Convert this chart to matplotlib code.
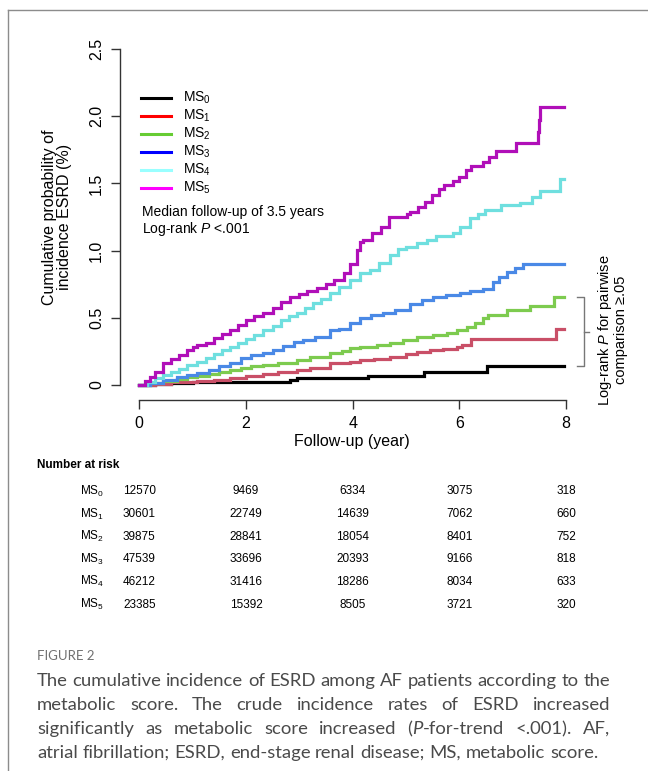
import matplotlib
matplotlib.use("Agg")
import matplotlib.pyplot as plt
from matplotlib.lines import Line2D

plt.rcParams["font.family"] = ["Liberation Sans", "DejaVu Sans"]
plt.rcParams["mathtext.fontset"] = "custom"
plt.rcParams["mathtext.rm"] = "Liberation Sans"
plt.rcParams["mathtext.it"] = "Liberation Sans:italic"
plt.rcParams["mathtext.bf"] = "Liberation Sans:bold"

# ---- cumulative incidence (%) step curves, (time in years, value) ----
ms0_t = [0, 0.3, 0.6, 1.0, 1.5, 2.0, 2.82, 2.95, 4.29, 5.34, 6.51, 7.96]
ms0_v = [0, 0.005, 0.012, 0.02, 0.022, 0.025, 0.04, 0.054, 0.069, 0.094, 0.144, 0.144]

ms1_t = [0, 0.3, 0.6, 1.08, 1.4, 1.7, 2.0, 2.32, 2.6, 2.95, 3.2, 3.57, 3.95, 4.14,
         4.4, 4.7, 5.0, 5.2, 5.45, 5.7, 5.95, 6.05, 6.21, 7.81, 7.96]
ms1_v = [0, 0.01, 0.02, 0.03, 0.04, 0.05, 0.065, 0.082, 0.095, 0.112, 0.13, 0.161, 0.173, 0.186,
         0.195, 0.211, 0.23, 0.245, 0.26, 0.27, 0.285, 0.30, 0.34, 0.417, 0.417]

ms2_t = [0, 0.2, 0.45, 0.7, 0.9, 1.08, 1.3, 1.5, 1.7, 1.9, 2.1, 2.32, 2.6, 2.95, 3.2,
         3.57, 3.8, 3.95, 4.14, 4.45, 4.7, 4.95, 5.2, 5.5, 5.76, 5.95, 6.14, 6.3, 6.45,
         6.54, 6.89, 7.32, 7.77, 7.96]
ms2_v = [0, 0.015, 0.032, 0.045, 0.058, 0.069, 0.085, 0.10, 0.112, 0.13, 0.14, 0.149, 0.165, 0.186, 0.21,
         0.236, 0.255, 0.273, 0.28, 0.298, 0.315, 0.335, 0.36, 0.37, 0.385, 0.41, 0.434, 0.46, 0.496,
         0.521, 0.56, 0.59, 0.652, 0.652]

ms3_t = [0, 0.2, 0.45, 0.7, 0.9, 1.08, 1.3, 1.5, 1.7, 1.9, 2.1, 2.32, 2.5, 2.7, 2.9, 3.07,
         3.3, 3.57, 3.75, 3.95, 4.14, 4.35, 4.57, 4.8, 5.07, 5.3, 5.51, 5.75, 6.01, 6.2,
         6.45, 6.64, 6.75, 6.89, 7.05, 7.19, 7.96]
ms3_v = [0, 0.015, 0.037, 0.06, 0.075, 0.087, 0.11, 0.14, 0.161, 0.20, 0.225, 0.236, 0.26, 0.29, 0.32, 0.335,
         0.36, 0.409, 0.42, 0.459, 0.496, 0.52, 0.533, 0.56, 0.603, 0.63, 0.657, 0.67, 0.687, 0.70,
         0.712, 0.769, 0.80, 0.843, 0.87, 0.898, 0.898]

ms4_t = [0, 0.15, 0.3, 0.45, 0.6, 0.75, 0.9, 1.08, 1.25, 1.4, 1.55, 1.7, 1.85, 2.0, 2.15,
         2.32, 2.5, 2.65, 2.8, 2.95, 3.1, 3.25, 3.4, 3.57, 3.75, 3.95, 4.14, 4.33, 4.5,
         4.7, 4.85, 5.0, 5.2, 5.39, 5.57, 5.89, 6.01, 6.2, 6.35, 6.48, 6.79, 7.14, 7.36,
         7.52, 7.89, 7.96]
ms4_v = [0, 0.02, 0.05, 0.074, 0.10, 0.12, 0.15, 0.173, 0.20, 0.23, 0.26, 0.285, 0.31, 0.34, 0.375,
         0.409, 0.44, 0.48, 0.51, 0.533, 0.57, 0.61, 0.64, 0.682, 0.73, 0.78, 0.831, 0.856, 0.91,
         0.967, 1.01, 1.03, 1.06, 1.079, 1.109, 1.128, 1.178, 1.24, 1.272, 1.30, 1.337, 1.356, 1.40,
         1.446, 1.53, 1.53]

ms5_t = [0, 0.1, 0.2, 0.3, 0.45, 0.6, 0.75, 0.9, 1.0, 1.08, 1.25, 1.4, 1.55, 1.7, 1.85,
         2.0, 2.15, 2.32, 2.5, 2.65, 2.82, 3.0, 3.15, 3.33, 3.5, 3.65, 3.83, 3.95, 4.08,
         4.14, 4.2, 4.36, 4.53, 4.69, 5.01, 5.08, 5.22, 5.35, 5.48, 5.62, 5.72, 5.88, 6.0,
         6.13, 6.22, 6.44, 6.56, 6.68, 7.06, 7.47, 7.50, 7.52, 7.96]
ms5_v = [0, 0.03, 0.06, 0.10, 0.161, 0.19, 0.22, 0.26, 0.28, 0.298, 0.31, 0.35, 0.38, 0.409, 0.45,
         0.48, 0.51, 0.533, 0.57, 0.62, 0.657, 0.68, 0.70, 0.72, 0.75, 0.78, 0.831, 0.90, 1.004,
         1.066, 1.079, 1.133, 1.178, 1.252, 1.27, 1.29, 1.327, 1.364, 1.41, 1.456, 1.49, 1.52, 1.545,
         1.60, 1.63, 1.66, 1.70, 1.741, 1.803, 1.885, 1.97, 2.071, 2.071]

series_t = [ms0_t, ms1_t, ms2_t, ms3_t, ms4_t, ms5_t]
series_v = [ms0_v, ms1_v, ms2_v, ms3_v, ms4_v, ms5_v]
curve_colors = ["#000000", "#c94f67", "#7dcb4f", "#4a89e6", "#6fdfdf", "#b00fb8"]
legend_colors = ["#000000", "#ff0000", "#66cc33", "#0000ff", "#99ffff", "#ff00ff"]
group_labels = ["MS$_0$", "MS$_1$", "MS$_2$", "MS$_3$", "MS$_4$", "MS$_5$"]

# ---- number at risk ----
risk_times = [0, 2, 4, 6, 8]
risk_ms0 = [12570, 9469, 6334, 3075, 318]
risk_ms1 = [30601, 22749, 14639, 7062, 660]
risk_ms2 = [39875, 28841, 18054, 8401, 752]
risk_ms3 = [47539, 33696, 20393, 9166, 818]
risk_ms4 = [46212, 31416, 18286, 8034, 633]
risk_ms5 = [23385, 15392, 8505, 3721, 320]
risk_rows = [risk_ms0, risk_ms1, risk_ms2, risk_ms3, risk_ms4, risk_ms5]

x_ticks = [0, 2, 4, 6, 8]
y_ticks = [0, 0.5, 1.0, 1.5, 2.0, 2.5]
y_ticklabels = ["0", "0.5", "1.0", "1.5", "2.0", "2.5"]

W, H = 648, 771
fig = plt.figure(figsize=(W / 100, H / 100), dpi=100)


def fx(px):
    return px / W


def fy(py):
    return 1 - py / H


# panel border
fig.add_artist(Line2D([fx(8), fx(W)], [fy(10), fy(10)], color="#8c8c8c", lw=1.0))
fig.add_artist(Line2D([fx(8), fx(8)], [fy(10), fy(H)], color="#8c8c8c", lw=1.0))

ax_left, ax_right, ax_top, ax_bottom = 139.3, 566.0, 49.0, 385.0
ax = fig.add_axes([fx(ax_left), fy(ax_bottom), (ax_right - ax_left) / W, (ax_bottom - ax_top) / H])
ax.set_xlim(0, 8)
ax.set_ylim(0, 2.5)
ax.patch.set_alpha(0)

for t, v, c in zip(series_t, series_v, curve_colors):
    ax.plot(t, v, drawstyle="steps-post", color=c, lw=2.3, solid_joinstyle="miter", clip_on=False)

for s in ["top", "right"]:
    ax.spines[s].set_visible(False)
ax.spines["left"].set_position(("outward", 13.9))
ax.spines["bottom"].set_position(("outward", 10.8))
ax.spines["left"].set_bounds(0, 2.5)
ax.spines["bottom"].set_bounds(0, 8)
for s in ["left", "bottom"]:
    ax.spines[s].set_color("#333333")
    ax.spines[s].set_linewidth(1.0)
ax.set_xticks(x_ticks)
ax.set_xticklabels([str(x) for x in x_ticks])
ax.set_yticks(y_ticks)
ax.set_yticklabels(y_ticklabels, rotation=90, va="center")
ax.tick_params(axis="both", direction="out", length=6.5, width=1.0, color="#333333", labelsize=11.5)
ax.tick_params(axis="y", pad=5)
ax.tick_params(axis="x", pad=5)

fig.text(fx(352), fy(442), "Follow-up (year)", ha="center", va="center", fontsize=11.5)
fig.text(fx(57), fy(217), "Cumulative probability of\nincidence ESRD (%)", ha="center", va="center",
         rotation=90, fontsize=11.5, linespacing=1.05)

# legend
leg_y0, leg_dy = 98.3, 17.9
for i, (c, lab) in enumerate(zip(legend_colors, group_labels)):
    yy = leg_y0 + i * leg_dy
    fig.add_artist(Line2D([fx(141), fx(171)], [fy(yy), fy(yy)], color=c, lw=2.2))
    fig.text(fx(183), fy(yy), lab, ha="left", va="center", fontsize=10)
fig.text(fx(141.5), fy(211.7), "Median follow-up of 3.5 years", ha="left", va="center", fontsize=10)
fig.text(fx(141.5), fy(229), "Log-rank $P$ <.001", ha="left", va="center", fontsize=10)

# bracket and note on the right
bc = "#777777"
fig.add_artist(Line2D([fx(577), fx(584), fx(584), fx(577)], [fy(297.5), fy(297.5), fy(366), fy(366)],
                      color=bc, lw=1.0))
fig.add_artist(Line2D([fx(584), fx(589)], [fy(331.7), fy(331.7)], color=bc, lw=1.0))
fig.text(fx(612), fy(330), "Log-rank $P$ for pairwise\ncomparison \u2265.05", ha="center", va="center",
         rotation=90, fontsize=10.5, linespacing=1.05)

# number-at-risk table
fig.text(fx(37), fy(465), "Number at risk", ha="left", va="center", fontsize=8.5, fontweight="bold")
row_y0, row_dy = 491.5, 22.6
for i, (lab, row) in enumerate(zip(group_labels, risk_rows)):
    yy = row_y0 + i * row_dy
    fig.text(fx(80), fy(yy), lab, ha="left", va="center", fontsize=8.5)
    for tt, n in zip(risk_times, row):
        xpix = ax_left + (ax_right - ax_left) * tt / 8
        fig.text(fx(xpix), fy(yy), str(n), ha="center", va="center", fontsize=8.5)

# caption
cap_font = ["Lato", "DejaVu Sans"]
cap_color = "#4a4a4a"
fig.text(fx(37), fy(656), "FIGURE 2", ha="left", va="center", fontsize=9.5, color="#707070",
         family=cap_font)

caption_lines = [
    [[("The", "normal")], [("cumulative", "normal")], [("incidence", "normal")], [("of", "normal")],
     [("ESRD", "normal")], [("among", "normal")], [("AF", "normal")], [("patients", "normal")],
     [("according", "normal")], [("to", "normal")], [("the", "normal")]],
    [[("metabolic", "normal")], [("score.", "normal")], [("The", "normal")], [("crude", "normal")],
     [("incidence", "normal")], [("rates", "normal")], [("of", "normal")], [("ESRD", "normal")],
     [("increased", "normal")]],
    [[("significantly", "normal")], [("as", "normal")], [("metabolic", "normal")], [("score", "normal")],
     [("increased", "normal")], [("(", "normal"), ("P", "italic"), ("-for-trend", "normal")],
     [("<.001).", "normal")], [("AF,", "normal")]],
    [[("atrial", "normal")], [("fibrillation;", "normal")], [("ESRD,", "normal")], [("end-stage", "normal")],
     [("renal", "normal")], [("disease;", "normal")], [("MS,", "normal")], [("metabolic", "normal")],
     [("score.", "normal")]],
]
cap_y = [681, 705, 729, 753]
cap_x0, cap_x1 = 37.0, 610.0

renderer = fig.canvas.get_renderer()


def text_width(s, size, style="normal"):
    t = fig.text(0, 0, s, fontsize=size, family=cap_font, style=style)
    w = t.get_window_extent(renderer).width
    t.remove()
    return w


# size the caption so the first line fills the text block
probe = " ".join("".join(seg for seg, _ in w) for w in caption_lines[0])
cap_size = 10.0 * (cap_x1 - cap_x0) / text_width(probe, 10.0)
space_w = text_width("a a", cap_size) - text_width("aa", cap_size)

for li, (words, yy) in enumerate(zip(caption_lines, cap_y)):
    widths = [[text_width(seg, cap_size, st) for seg, st in w] for w in words]
    totals = [sum(ws) for ws in widths]
    justify = li < len(caption_lines) - 1
    gap = (cap_x1 - cap_x0 - sum(totals)) / (len(words) - 1) if justify else space_w
    x = cap_x0
    for w, ws, tot in zip(words, widths, totals):
        xs = x
        for (seg, st), sw in zip(w, ws):
            fig.text(fx(xs), fy(yy), seg, ha="left", va="center", fontsize=cap_size,
                     family=cap_font, style=st, color=cap_color)
            xs += sw
        x += tot + gap

fig.savefig("out.png", dpi=100)
